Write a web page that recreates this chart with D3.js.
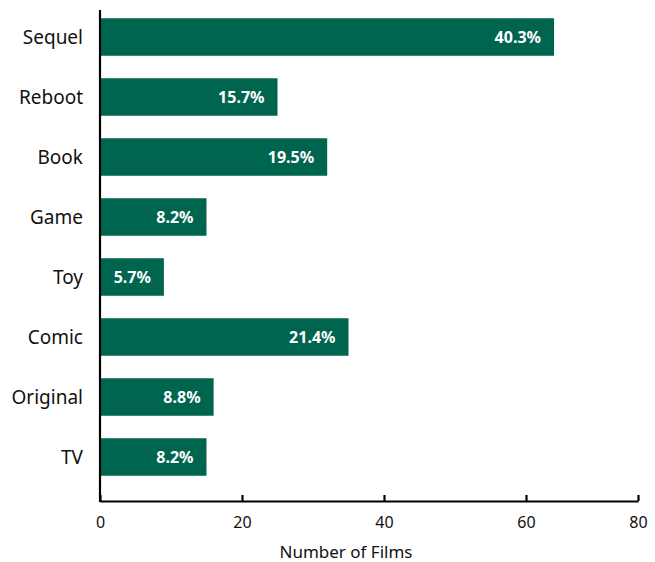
<!DOCTYPE html>
<html>
<head>
<meta charset="utf-8">
<script src="https://cdn.jsdelivr.net/npm/d3@7"></script>
<style>
  body { margin: 0; background: #fff; }
  text { font-family: "Noto Sans", "Open Sans", sans-serif; }
</style>
</head>
<body>
<div id="chart"></div>
<script>
// data
var categories = ["Sequel", "Reboot", "Book", "Game", "Toy", "Comic", "Original", "TV"];
var films = [65, 25, 32, 15, 9, 35, 16, 15];
var shares = ["40.3%", "15.7%", "19.5%", "8.2%", "5.7%", "21.4%", "8.8%", "8.2%"];
var xTicks = [0, 20, 40, 60, 80];

var width = 655, height = 562;
var left = 100;

var barData = categories.map(function (c, i) {
    return { yLabel: c, value: films[i], share: shares[i] };
});

var svg = d3.select("#chart").append("svg")
    .attr("width", width)
    .attr("height", height);

// axis in the picture is squeezed after 60, so use a piecewise scale
var xScale = d3.scaleLinear()
    .domain([0, 60, 80])
    .range([left, left + 426, left + 538]);

var yScale = d3.scaleBand()
    .domain(categories)
    .range([7, 487])
    .paddingInner(0.375)
    .paddingOuter(0.1875);

var axisY = 501;

// bars
svg.append("g").selectAll("rect")
    .data(barData)
    .join("rect")
    .attr("x", xScale(0))
    .attr("y", d => yScale(d.yLabel))
    .attr("width", d => xScale(d.value) - xScale(0))
    .attr("height", yScale.bandwidth())
    .attr("fill", "#00654f");

// share labels inside bars
svg.append("g").selectAll("text")
    .data(barData)
    .join("text")
    .attr("x", d => xScale(d.value) - 13)
    .attr("y", d => yScale(d.yLabel) + yScale.bandwidth() / 2)
    .attr("dy", "0.36em")
    .attr("text-anchor", "end")
    .attr("fill", "#fff")
    .style("font-size", "16px")
    .style("font-weight", "bold")
    .text(d => d.share);

// category labels
svg.append("g").selectAll("text")
    .data(barData)
    .join("text")
    .attr("x", 83)
    .attr("y", d => yScale(d.yLabel) + yScale.bandwidth() / 2)
    .attr("dy", "0.36em")
    .attr("text-anchor", "end")
    .attr("fill", "#111")
    .style("font-size", "19px")
    .text(d => d.yLabel);

// x axis
var xAxis = d3.axisBottom(xScale)
    .tickValues(xTicks)
    .tickSize(-6)
    .tickSizeOuter(0)
    .tickPadding(16);

var gx = svg.append("g")
    .attr("transform", "translate(0," + axisY + ")")
    .call(xAxis);
gx.select(".domain").attr("stroke", "#000").attr("stroke-width", 2.2);
gx.selectAll(".tick line").attr("stroke", "#000").attr("stroke-width", 2.2);
gx.selectAll(".tick text")
    .attr("fill", "#111")
    .style("font-size", "16px")
    .style("font-family", "'Noto Sans', sans-serif");

// y axis line
svg.append("line")
    .attr("x1", xScale(0)).attr("x2", xScale(0))
    .attr("y1", 10).attr("y2", axisY + 1)
    .attr("stroke", "#000")
    .attr("stroke-width", 2.2);

// axis title
svg.append("text")
    .attr("x", 346)
    .attr("y", 558)
    .attr("text-anchor", "middle")
    .attr("fill", "#111")
    .style("font-size", "17px")
    .text("Number of Films");
</script>
</body>
</html>
